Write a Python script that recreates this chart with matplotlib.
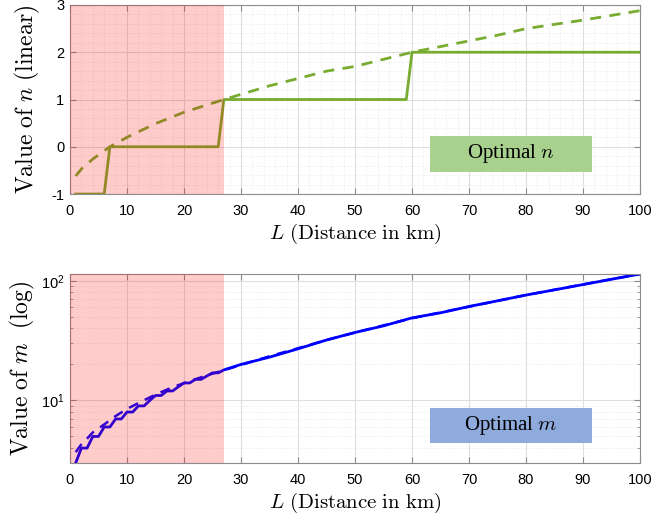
import numpy as np
import matplotlib
matplotlib.use('Agg')
from matplotlib import pyplot as plt
from matplotlib import ticker
from matplotlib.patches import Rectangle

plt.rcParams['font.family'] = ['Liberation Sans', 'DejaVu Sans']
plt.rcParams['mathtext.fontset'] = 'custom'
plt.rcParams['mathtext.rm'] = 'Liberation Sans'
plt.rcParams['mathtext.it'] = 'Liberation Sans:italic'
plt.rcParams['axes.unicode_minus'] = False

# optimal n (integer, solid) -- breakpoints of the staircase
n_L = [1, 6, 7, 26, 27, 59, 60, 100]
n_opt = [-1, -1, 0, 0, 1, 1, 2, 2]
# continuous n (dashed)
nc_L = [1, 2, 4, 7, 10, 15, 20, 27, 35, 45, 50, 60, 75, 80, 90, 100]
n_cont = [-0.62, -0.47, -0.26, 0.0, 0.2, 0.49, 0.73, 1.0, 1.29, 1.6, 1.7,
          2.0, 2.36, 2.5, 2.68, 2.88]

# optimal m (integer, solid)
m_L = list(range(1, 28)) + [30, 35, 40, 45, 50, 55, 60, 65, 70, 75, 80, 85, 90, 95, 100]
m_opt = [3, 4, 4, 5, 5, 6, 6, 7, 7, 8, 8, 9, 9, 10, 11, 11, 12, 12, 13, 14,
         14, 15, 15, 16, 17, 17, 18,
         20, 23, 27, 32, 37, 42, 49, 54, 61, 68, 76, 84, 93, 103, 114]
# continuous m (dashed)
mc_L = [1, 2, 3, 4, 6, 8, 10, 12, 15, 18, 21, 24, 27, 30, 35, 40, 45, 50,
        55, 60, 65, 70, 75, 80, 85, 90, 95, 100]
m_cont = [3.7, 4.3, 4.8, 5.4, 6.3, 7.4, 8.5, 9.5, 11.2, 12.9, 14.5, 16.2, 17.9,
          19.8, 23.4, 27.3, 32.0, 36.9, 42.4, 48.6, 54.4, 60.7, 68.0, 76.0,
          84.2, 93.3, 103.0, 113.7]

L_red = 27  # region shaded in red

green = '#77AC30'
blue = '#0000FF'
frame = '0.55'

fig = plt.figure(figsize=(6.56, 5.2), dpi=100)
ax1 = fig.add_axes([0.1067, 0.6269, 0.8689, 0.3635])
ax2 = fig.add_axes([0.1067, 0.1096, 0.8689, 0.3635])


def style(ax):
    for s in ax.spines.values():
        s.set_color(frame)
        s.set_linewidth(0.8)
    ax.tick_params(which='both', direction='in', top=True, right=True,
                   color=frame, labelsize=10.5, labelcolor='black')
    ax.tick_params(axis='x', pad=7)
    ax.tick_params(axis='y', pad=4)
    ax.tick_params(which='major', length=4)
    ax.tick_params(which='minor', length=2.5)
    ax.set_axisbelow(True)
    ax.set_xlim(0, 100)
    ax.set_xticks(np.arange(0, 101, 10))
    ax.set_xlabel(r'$L\ \mathrm{(Distance\ in\ km)}$', fontsize=15,
                  math_fontfamily='cm', labelpad=3)


# top: n
style(ax1)
ax1.plot(nc_L, n_cont, '--', color=green, lw=2, dashes=(4, 3))
ax1.plot(n_L, n_opt, '-', color=green, lw=2)
ax1.axvspan(0, L_red, color='red', alpha=0.2, lw=0, zorder=5)
ax1.set_ylim(-1, 3)
ax1.set_yticks([-1, 0, 1, 2, 3])
ax1.xaxis.set_minor_locator(ticker.MultipleLocator(2))
ax1.yaxis.set_minor_locator(ticker.MultipleLocator(0.2))
ax1.tick_params(which='minor', length=0)
ax1.grid(True, which='major', color='0.87', lw=0.8)
ax1.grid(True, which='minor', color='0.9', lw=0.6, ls=':')
ax1.set_ylabel(r'$\mathrm{Value\ of}\ n\ \mathrm{(linear)}$', fontsize=17,
               math_fontfamily='cm', labelpad=7)
ax1.add_patch(Rectangle((0.632, 0.116), 0.284, 0.191, transform=ax1.transAxes,
                        facecolor='#A9D18E', edgecolor='none', zorder=6))
ax1.text(0.774, 0.212, r'Optimal $n$', transform=ax1.transAxes, ha='center',
         va='center', fontsize=15, family='Liberation Serif',
         math_fontfamily='cm', zorder=7)

# bottom: m
style(ax2)
ax2.set_yscale('log')
ax2.plot(mc_L, m_cont, '--', color=blue, lw=1.8, dashes=(4, 3))
ax2.plot(m_L, m_opt, '-', color=blue, lw=2)
ax2.axvspan(0, L_red, color='red', alpha=0.2, lw=0, zorder=5)
ax2.set_ylim(3, 114)
ax2.yaxis.set_major_locator(ticker.FixedLocator([10, 100]))
ax2.yaxis.set_minor_locator(ticker.LogLocator(base=10, subs=np.arange(2, 10)))
ax2.yaxis.set_major_formatter(ticker.FuncFormatter(
    lambda v, p: r'$10^{%d}$' % round(np.log10(v))))
ax2.yaxis.set_minor_formatter(ticker.NullFormatter())
ax2.xaxis.set_minor_locator(ticker.NullLocator())
ax2.grid(True, which='major', color='0.87', lw=0.8)
ax2.grid(True, which='minor', axis='y', color='0.9', lw=0.6, ls=':')
ax2.set_ylabel(r'$\mathrm{Value\ of}\ m\ \ \mathrm{(log)}$', fontsize=17,
               math_fontfamily='cm', labelpad=3)
ax2.add_patch(Rectangle((0.632, 0.106), 0.284, 0.185, transform=ax2.transAxes,
                        facecolor='#8FAADC', edgecolor='none', zorder=6))
ax2.text(0.774, 0.198, r'Optimal $m$', transform=ax2.transAxes, ha='center',
         va='center', fontsize=15, family='Liberation Serif',
         math_fontfamily='cm', zorder=7)

fig.savefig('out.png', dpi=100)
